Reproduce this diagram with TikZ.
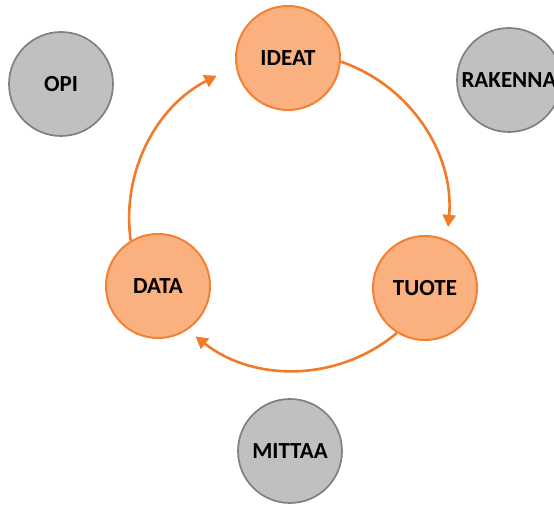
\documentclass[tikz,border=0pt]{standalone}
\usepackage{fontspec}
\setmainfont{Carlito}
\usetikzlibrary{arrows.meta}
\begin{document}
\begin{tikzpicture}[x=1pt,y=1pt,
  step circle/.style={circle,minimum size=104pt,inner sep=0pt,line width=2pt,
    font=\fontsize{23}{27}\selectfont\bfseries},
  cycle/.style={step circle,draw=cycleBorder,fill=cycleFill},
  side/.style={step circle,draw=sideBorder,fill=sideFill,line width=1.7pt},
  flow/.style={draw=flowColor,line width=2.6pt,-{Triangle[length=12pt,width=13pt]}}]
\definecolor{cycleFill}{RGB}{251,177,127}
\definecolor{cycleBorder}{RGB}{243,128,52}
\definecolor{sideFill}{RGB}{192,192,192}
\definecolor{sideBorder}{RGB}{128,128,128}
\definecolor{flowColor}{RGB}{242,122,40}
\path[use as bounding box,fill=white] (0,0) rectangle (554,505);

\node[cycle] (ideat) at (288,447) {IDEAT};
\node[cycle] (tuote) at (425,217) {TUOTE};
\node[cycle] (data)  at (158,219) {DATA};

\node[side] (opi)     at ( 61,421) {OPI};
\node[side] (rakenna) at (509,425) {RAKENNA};
\node[side] (mittaa)  at (290, 54) {MITTAA};

\draw[flow] (ideat.-4)  arc[start angle=71,end angle=-5,radius=160];
\draw[flow] (tuote.238) arc[start angle=-50,end angle=-128,radius=160];
\draw[flow] (data.121)  arc[start angle=188,end angle=117,radius=160];
\end{tikzpicture}
\end{document}
